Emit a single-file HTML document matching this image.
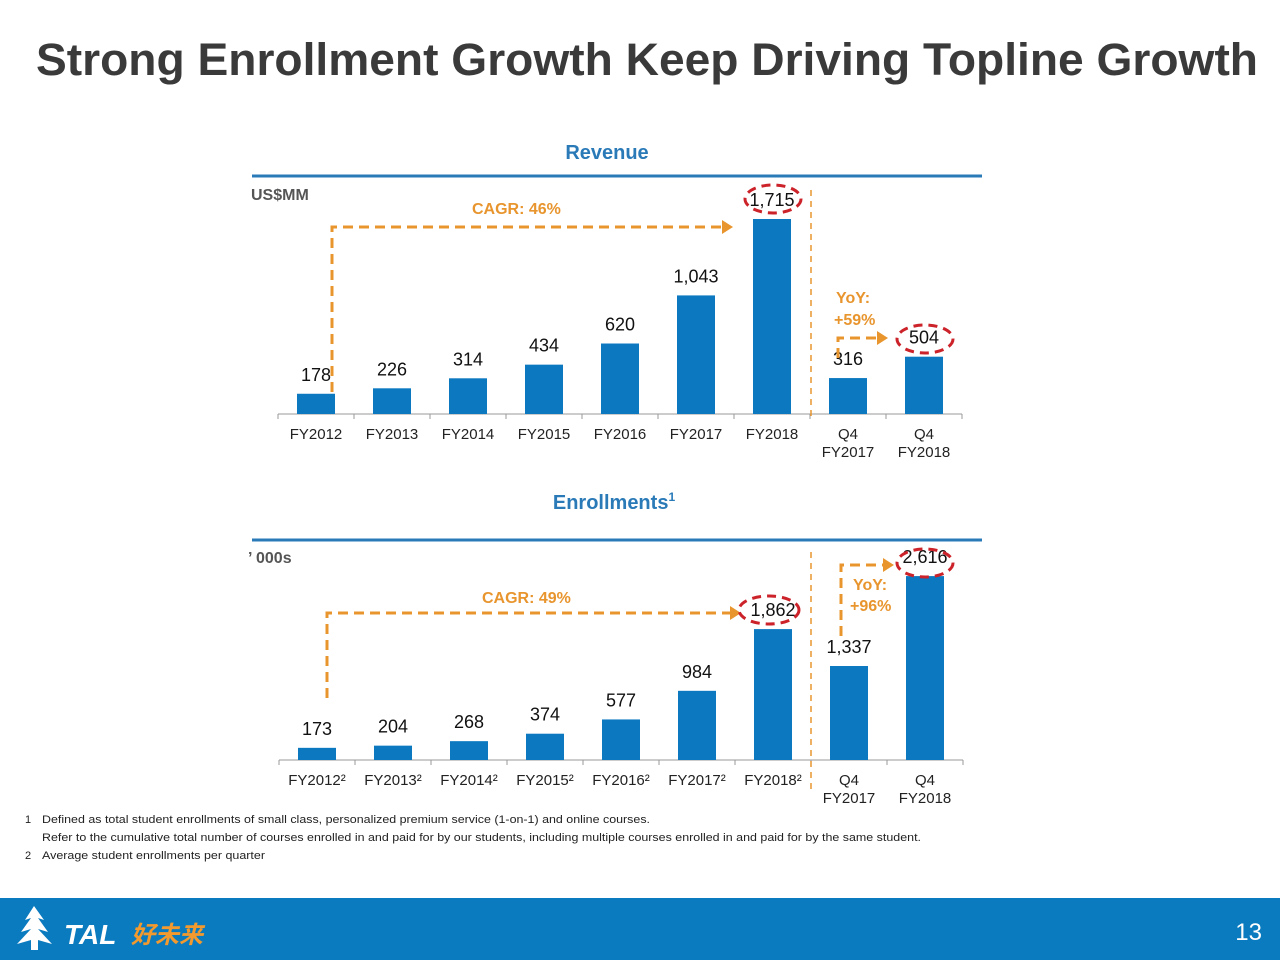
<!DOCTYPE html>
<html><head><meta charset="utf-8"><style>
body{margin:0;width:1280px;height:960px;background:#fff;overflow:hidden;font-family:"Liberation Sans","Noto Sans CJK SC",sans-serif;}
svg text{font-family:"Liberation Sans","Noto Sans CJK SC",sans-serif;}
</style></head><body>
<svg id="s" width="1280" height="960" xmlns="http://www.w3.org/2000/svg">
<text x="36" y="75" font-size="45" font-weight="bold" fill="#3a3a3a" textLength="1222" lengthAdjust="spacingAndGlyphs">Strong Enrollment Growth Keep Driving Topline Growth</text>
<text x="607" y="159" font-size="20" font-weight="bold" fill="#2a7ab8" text-anchor="middle">Revenue</text>
<line x1="252" y1="176" x2="982" y2="176" stroke="#2a7ab8" stroke-width="3"/>
<text x="251" y="200" font-size="16" font-weight="bold" fill="#555">US$MM</text>
<text x="614" y="509" font-size="20" font-weight="bold" fill="#2a7ab8" text-anchor="middle">Enrollments<tspan font-size="12" dy="-8">1</tspan></text>
<line x1="252" y1="540" x2="982" y2="540" stroke="#2a7ab8" stroke-width="3"/>
<text x="248" y="563" font-size="16" font-weight="bold" fill="#555">’ 000s</text>
<g id="rev"></g>
<g id="enr"></g>
<g fill="none" stroke="#e8952e" stroke-width="3" stroke-dasharray="10,6">
<path d="M332 392 V227 H725"/><path d="M327 698 V613 H733"/>
<path d="M838 358 V338 H880"/><path d="M841 636 V565 H886"/>
</g>
<g fill="#e8952e">
<path d="M722 220 L733 227 L722 234Z"/><path d="M730 606 L741 613 L730 620Z"/>
<path d="M877 331 L888 338 L877 345Z"/><path d="M883 558 L894 565 L883 572Z"/>
</g>
<g stroke="#e8952e" stroke-width="1.5" stroke-dasharray="6,5">
<line x1="811" y1="190" x2="811" y2="420"/><line x1="811" y1="552" x2="811" y2="790"/></g>
<g font-weight="bold" fill="#e8952e" font-size="16">
<text x="472" y="214">CAGR: 46%</text><text x="482" y="603">CAGR: 49%</text>
<text x="836" y="303">YoY:</text><text x="834" y="325">+59%</text>
<text x="853" y="590">YoY:</text><text x="850" y="611">+96%</text></g>
<g fill="none" stroke="#cc2229" stroke-width="3" stroke-dasharray="9,6">
<ellipse cx="773" cy="199" rx="28" ry="14"/><ellipse cx="925" cy="339" rx="28" ry="14"/>
<ellipse cx="769" cy="610" rx="30" ry="14"/><ellipse cx="925" cy="563" rx="28" ry="14"/></g>
<g font-size="11" fill="#222">
<text x="25" y="823">1</text><text x="42" y="823" textLength="608" lengthAdjust="spacingAndGlyphs">Defined as total student enrollments of small class, personalized premium service (1-on-1) and online courses.</text>
<text x="42" y="841" textLength="879" lengthAdjust="spacingAndGlyphs">Refer to the cumulative total number of courses enrolled in and paid for by our students, including multiple courses enrolled in and paid for by the same student.</text>
<text x="25" y="859">2</text><text x="42" y="859" textLength="223" lengthAdjust="spacingAndGlyphs">Average student enrollments per quarter</text></g>
<rect x="0" y="898" width="1280" height="62" fill="#0b7bbf"/>
<g fill="#fff"><path d="M34 906 L44 920 L38 918 L48 932 L38 929 L52 944 L38 940 V950 H31 V940 L17 944 L31 929 L21 932 L31 918 L25 920Z"/></g>
<text x="64" y="944" font-size="28" font-weight="bold" font-style="italic" fill="#fff">TAL</text>
<text x="131" y="943" font-size="24" font-weight="bold" font-style="italic" fill="#f29a2e">好未来</text>
<text x="1262" y="940" font-size="24" fill="#fff" text-anchor="end">13</text>
</svg>
<script>
const revCats=["FY2012","FY2013","FY2014","FY2015","FY2016","FY2017","FY2018","Q4|FY2017","Q4|FY2018"];
const revVals=[178,226,314,434,620,1043,1715,316,504];
const revLabels=["178","226","314","434","620","1,043","1,715","316","504"];
const enrCats=["FY2012²","FY2013²","FY2014²","FY2015²","FY2016²","FY2017²","FY2018²","Q4|FY2017","Q4|FY2018"];
const enrVals=[173,204,268,374,577,984,1862,1337,2616];
const enrLabels=["173","204","268","374","577","984","1,862","1,337","2,616"];
const NS="http://www.w3.org/2000/svg";
function mk(g,t,a,txt){const e=document.createElementNS(NS,t);for(const k in a)e.setAttribute(k,a[k]);if(txt!==undefined)e.textContent=txt;g.appendChild(e);return e;}
function draw(id,cats,vals,labels,x0,base,scale,name){
 const g=document.getElementById(id);const step=76;
 const x=i=>x0+i*step, y=v=>base-v*scale;
 const ax=mk(g,'line',{x1:x0-38,x2:x0-38+step*9,y1:base,y2:base,stroke:'#999','stroke-width':1});
 
 
 for(let i=0;i<=9;i++){mk(g,'line',{x1:x0-38+i*step,x2:x0-38+i*step,y1:base,y2:base+5,stroke:'#999'});}
 vals.forEach((v,i)=>{
  const b=mk(g,'rect',{x:x(i)-19,y:y(v),width:38,height:v*scale,fill:'#0b78c0'});
  
  
  const l=mk(g,'text',{x:x(i),y:y(v)-13,'font-size':18,fill:'#111','text-anchor':'middle'},labels[i]);
  
  
  const parts=cats[i].split('|');
  parts.forEach((p,j)=>{
   const t=mk(g,'text',{x:x(i),y:base+25+j*18,'font-size':15,fill:'#222','text-anchor':'middle'},p);
   
   
  });
 });
}
draw('rev',revCats,revVals,revLabels,316,414,0.1137,'revenue');
draw('enr',enrCats,enrVals,enrLabels,317,760,0.0703,'enrollments');
</script>
</body></html>
